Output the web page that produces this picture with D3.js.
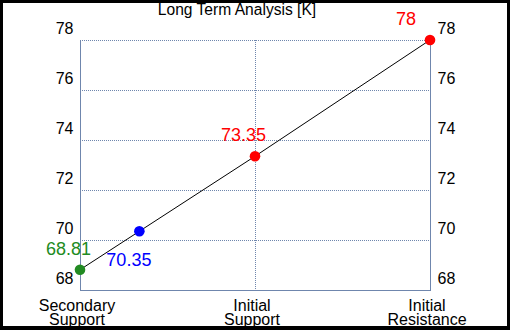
<!DOCTYPE html>
<html>
<head>
<meta charset="utf-8">
<script src="https://cdn.jsdelivr.net/npm/d3@7"></script>
<style>
  body { margin: 0; background: #000; }
  svg { display: block; font-family: "Liberation Sans", Arial, sans-serif; }
</style>
</head>
<body>
<svg id="chart" width="510" height="330"></svg>
<script>
// chart values
const categories = [["Secondary", "Support"], ["Initial", "Support"], ["Initial", "Resistance"]];
const levels = [68.81, 73.35, 78];          // value at each category
const levelColors = ["#228b22", "#ff0000", "#ff0000"];
const current = 70.35;                      // current price (sits on the line)
const yTicks = [68, 70, 72, 74, 76, 78];
const title = "Long Term Analysis [K]";

const svg = d3.select("#chart");
svg.append("rect").attr("x", 3).attr("y", 3).attr("width", 504).attr("height", 323).attr("fill", "#fff");

const plotLeft = 80, plotRight = 430, plotTop = 40, plotBottom = 290;
const gridColor = "#6f86ad";

const x = d3.scalePoint().domain(d3.range(categories.length)).range([plotLeft, plotRight]);
const y = d3.scaleLinear().domain([68, 78]).range([plotBottom, plotTop]);

// title
svg.append("text")
    .attr("x", 237).attr("y", 14.5)
    .attr("text-anchor", "middle")
    .style("font-size", "15.6px")
    .text(title);

// horizontal grid lines (dotted)
svg.append("g").selectAll("line")
    .data(yTicks.filter(d => d != 68))
    .enter().append("line")
    .attr("x1", plotLeft).attr("x2", plotRight)
    .attr("y1", d => y(d) + 0.5).attr("y2", d => y(d) + 0.5)
    .attr("stroke", gridColor)
    .attr("stroke-dasharray", "1,1");

// vertical grid line in the middle
svg.append("line")
    .attr("x1", x(1) + 0.5).attr("x2", x(1) + 0.5)
    .attr("y1", plotTop).attr("y2", plotBottom)
    .attr("stroke", gridColor)
    .attr("stroke-dasharray", "1,1");

// solid axis lines
const axisLeft = d3.axisLeft(y).tickValues(yTicks).tickSize(0).tickPadding(7);
const axisRight = d3.axisRight(y).tickValues(yTicks).tickSize(0).tickPadding(7);

var gl = svg.append("g").attr("transform", `translate(${plotLeft + 0.5},0)`).call(axisLeft);
var gr = svg.append("g").attr("transform", `translate(${plotRight + 0.5},0)`).call(axisRight);
[gl, gr].forEach(g => {
    g.select(".domain").attr("stroke", gridColor).attr("d", `M0,${plotTop}V${plotBottom + 0.5}`);
    g.selectAll("text")
        .attr("dy", "-6.5")
        .attr("fill", "#000")
        .style("font-size", "16px")
        .style("font-family", "'Liberation Sans', Arial, sans-serif");
});
svg.append("line")
    .attr("x1", plotLeft).attr("x2", plotRight + 1)
    .attr("y1", plotBottom + 0.5).attr("y2", plotBottom + 0.5)
    .attr("stroke", gridColor);

// category labels
var cat = svg.append("g").selectAll("text")
    .data(categories)
    .enter().append("text")
    .attr("text-anchor", "middle")
    .style("font-size", "16px");
cat.selectAll("tspan")
    .data((d, i) => d.map((t, j) => ({ t: t, i: i, j: j })))
    .enter().append("tspan")
    .attr("x", d => x(d.i) - 3)
    .attr("y", d => 310.5 + d.j * 14)
    .text(d => d.t);

// line through the levels
const line = d3.line().x((d, i) => x(i)).y(d => y(d));
svg.append("path")
    .datum(levels)
    .attr("d", line)
    .attr("fill", "none")
    .attr("stroke", "#000")
    .attr("stroke-width", 1);

// current price placed on the first segment
const cx = x(0) + (x(1) - x(0)) * (current - levels[0]) / (levels[1] - levels[0]);

svg.append("g").selectAll("circle")
    .data(levels)
    .enter().append("circle")
    .attr("cx", (d, i) => x(i))
    .attr("cy", d => y(d))
    .attr("r", 5.3)
    .attr("fill", (d, i) => levelColors[i]);

svg.append("circle")
    .attr("cx", cx).attr("cy", y(current))
    .attr("r", 5.3)
    .attr("fill", "#0000ff");

// value labels
svg.append("g").selectAll("text")
    .data(levels)
    .enter().append("text")
    .attr("x", (d, i) => x(i) - 34)
    .attr("y", d => y(d) - 15)
    .attr("fill", (d, i) => levelColors[i])
    .style("font-size", "18px")
    .text(d => d);

svg.append("text")
    .attr("x", cx - 33)
    .attr("y", y(current) + 35)
    .attr("fill", "#0000ff")
    .style("font-size", "18px")
    .text(current);
</script>
</body>
</html>
